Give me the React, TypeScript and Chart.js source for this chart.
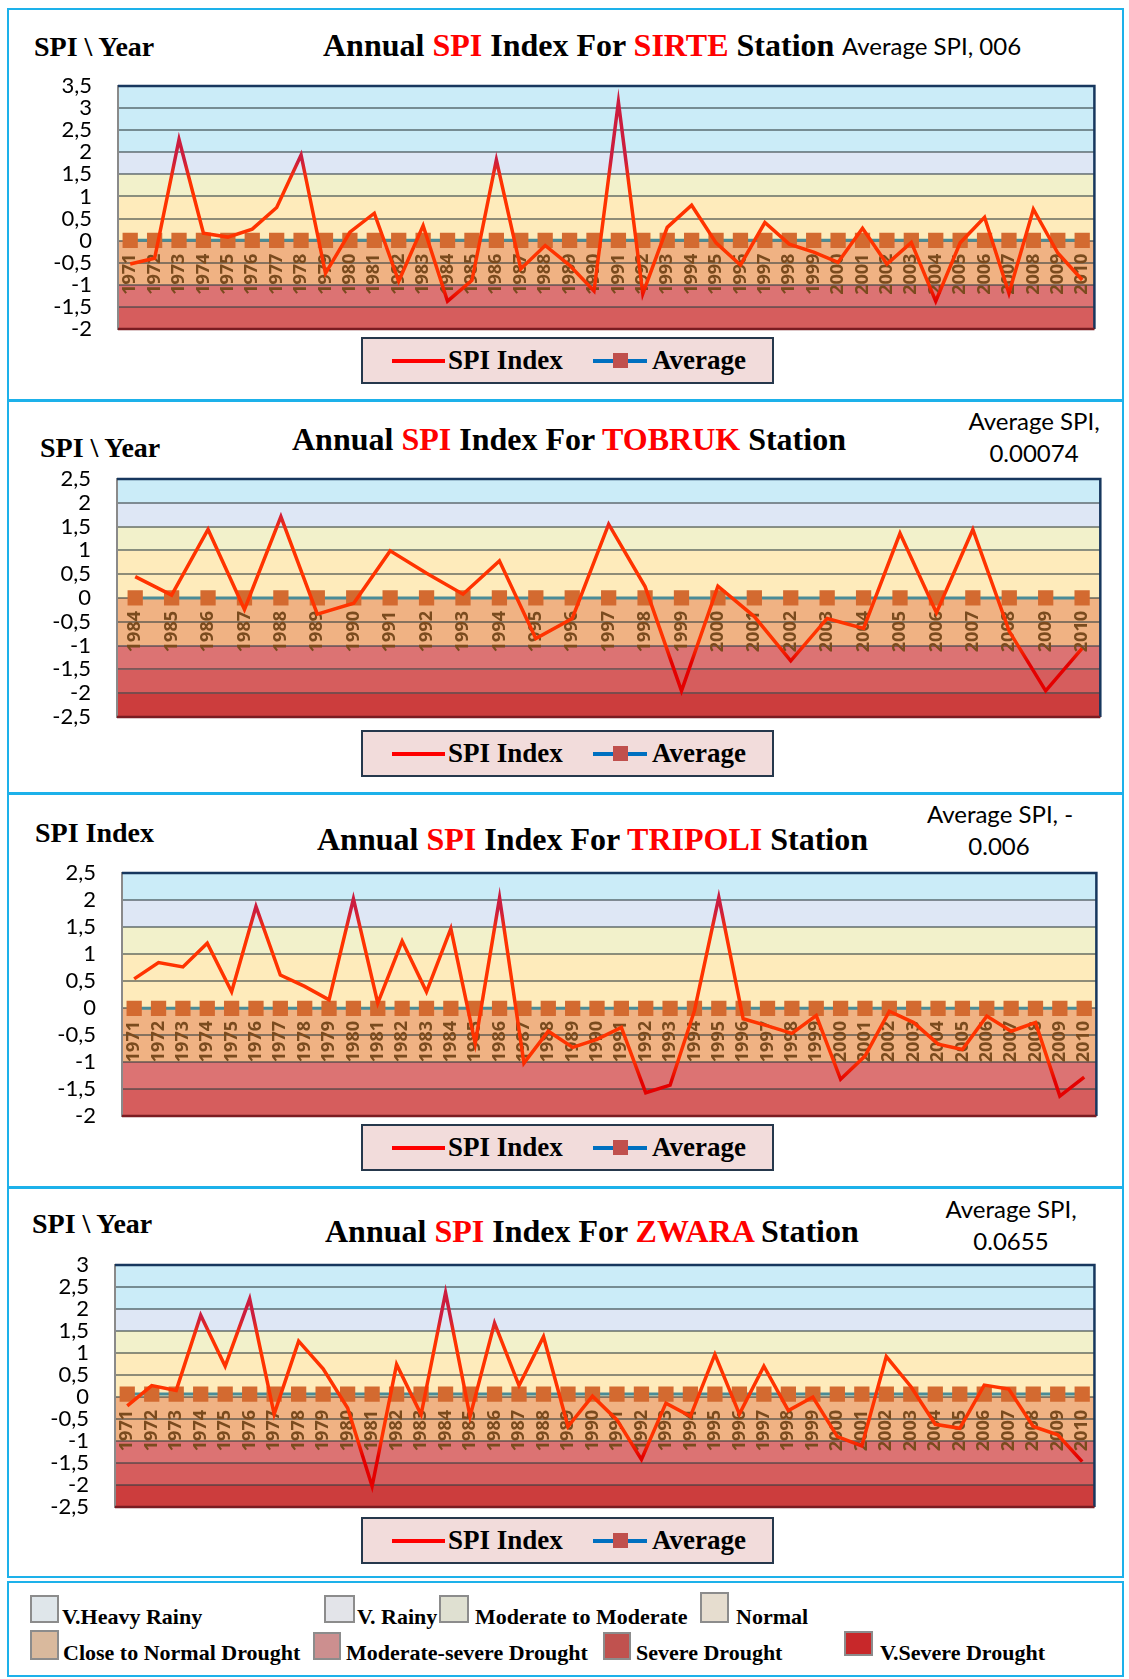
import React, { useEffect, useRef } from 'react';
import { Chart, registerables } from 'chart.js';

Chart.register(...registerables);

// ---------------- DATA ----------------
const YEARS_1971_2010 = [
  '1971', '1972', '1973', '1974', '1975', '1976', '1977', '1978', '1979', '1980',
  '1981', '1982', '1983', '1984', '1985', '1986', '1987', '1988', '1989', '1990',
  '1991', '1992', '1993', '1994', '1995', '1996', '1997', '1998', '1999', '2000',
  '2001', '2002', '2003', '2004', '2005', '2006', '2007', '2008', '2009', '2010',
];
const YEARS_1984_2010 = [
  '1984', '1985', '1986', '1987', '1988', '1989', '1990', '1991', '1992', '1993',
  '1994', '1995', '1996', '1997', '1998', '1999', '2000', '2001', '2002', '2003',
  '2004', '2005', '2006', '2007', '2008', '2009', '2010',
];

const SIRTE_SPI = [
  -0.53, -0.40, 2.29, 0.17, 0.08, 0.26, 0.75, 1.94, -0.74, 0.19,
  0.62, -0.92, 0.34, -1.37, -0.90, 1.83, -0.64, -0.11, -0.56, -1.14,
  3.14, -1.20, 0.30, 0.80, -0.05, -0.55, 0.41, -0.08, -0.26, -0.49,
  0.28, -0.53, -0.04, -1.37, -0.05, 0.53, -1.19, 0.71, -0.28, -0.89,
];
const SIRTE_AVG = 0.006;

const TOBRUK_SPI = [
  0.45, 0.06, 1.44, -0.24, 1.71, -0.34, -0.11, 0.99, 0.52, 0.08,
  0.78, -0.85, -0.43, 1.55, 0.24, -1.95, 0.25, -0.39, -1.32, -0.43,
  -0.64, 1.36, -0.31, 1.44, -0.70, -1.95, -1.06,
];
const TOBRUK_AVG = 0.00074;

const TRIPOLI_SPI = [
  0.54, 0.84, 0.76, 1.20, 0.30, 1.88, 0.61, 0.40, 0.15, 2.02,
  0.09, 1.24, 0.30, 1.47, -0.66, 2.04, -1.02, -0.43, -0.73, -0.58,
  -0.36, -1.57, -1.43, -0.05, 2.05, -0.20, -0.33, -0.47, -0.14, -1.32,
  -0.89, -0.06, -0.27, -0.67, -0.77, -0.15, -0.43, -0.27, -1.63, -1.28,
];
const TRIPOLI_AVG = -0.006;

const ZWARA_SPI = [
  -0.20, 0.26, 0.15, 1.86, 0.70, 2.23, -0.39, 1.27, 0.64, -0.25,
  -2.03, 0.74, -0.40, 2.37, -0.44, 1.68, 0.26, 1.37, -0.67, 0.02,
  -0.52, -1.42, -0.14, -0.44, 0.97, -0.39, 0.70, -0.31, 0.00, -0.90,
  -1.11, 0.92, 0.24, -0.62, -0.71, 0.27, 0.18, -0.67, -0.86, -1.47,
];
const ZWARA_AVG = 0.0655;

// SPI classes (value ranges of the background bands)
const BAND_FROM = [2, 1.5, 1, 0, -1, -1.5, -2, -10];
const BAND_TO = [10, 2, 1.5, 1, 0, -1, -1.5, -2];
const BAND_COLORS = ['#CBECF8', '#DEE7F5', '#F2F1CB', '#FEEBBB', '#F0B283', '#DC7373', '#D65D5D', '#CC3D3D'];

// ---------------- STYLE ----------------
const SERIF = '"Liberation Serif", "Times New Roman", serif';
const SANS = 'Lato, "Open Sans", sans-serif';
const PAD_L = 100;
const PAD_T = 44;
const PAD_R = 16;
const PAD_B = 44;

const GRAD_STOPS: [number, string][] = [
  [1.8, '#CC1D3E'],
  [1.35, '#FF3300'],
  [-0.95, '#FF3300'],
  [-1.35, '#E40000'],
];

function lineGradient(chart: any) {
  const { ctx, chartArea, scales } = chart;
  if (!chartArea || !scales || !scales.y) return '#FF3300';
  const y = scales.y;
  const h = chartArea.bottom - chartArea.top;
  const g = ctx.createLinearGradient(0, chartArea.top, 0, chartArea.bottom);
  for (const [v, c] of GRAD_STOPS) {
    const off = (y.getPixelForValue(v) - chartArea.top) / h;
    g.addColorStop(Math.min(1, Math.max(0, off)), c);
  }
  return g;
}

const bandsPlugin = {
  id: 'spiBands',
  beforeDraw(chart: any) {
    const { ctx, chartArea, scales } = chart;
    if (!chartArea) return;
    const y = scales.y;
    ctx.save();
    ctx.beginPath();
    ctx.rect(chartArea.left, chartArea.top, chartArea.right - chartArea.left, chartArea.bottom - chartArea.top);
    ctx.clip();
    for (let i = 0; i < BAND_COLORS.length; i++) {
      const top = Math.max(chartArea.top, y.getPixelForValue(BAND_TO[i]));
      const bot = Math.min(chartArea.bottom, y.getPixelForValue(BAND_FROM[i]));
      if (bot > top) {
        ctx.fillStyle = BAND_COLORS[i];
        ctx.fillRect(chartArea.left, top, chartArea.right - chartArea.left, bot - top);
      }
    }
    ctx.restore();
  },
  beforeDatasetsDraw(chart: any) {
    const { ctx, chartArea } = chart;
    if (!chartArea) return;
    ctx.save();
    ctx.lineWidth = 2.5;
    ctx.strokeStyle = '#17375E';
    ctx.beginPath();
    ctx.moveTo(chartArea.left, chartArea.top);
    ctx.lineTo(chartArea.right, chartArea.top);
    ctx.lineTo(chartArea.right, chartArea.bottom);
    ctx.stroke();
    ctx.strokeStyle = '#7A1C22';
    ctx.beginPath();
    ctx.moveTo(chartArea.left, chartArea.bottom);
    ctx.lineTo(chartArea.right, chartArea.bottom);
    ctx.stroke();
    ctx.restore();
  },
};

type Box = { left: number; top: number; width: number; height: number };

function StationChart(props: {
  labels: string[];
  spi: number[];
  avg: number;
  yMin: number;
  yMax: number;
  box: Box;
}) {
  const { labels, spi, avg, yMin, yMax, box } = props;
  const ref = useRef<HTMLCanvasElement | null>(null);
  const w = box.width + PAD_L + PAD_R;
  const h = box.height + PAD_T + PAD_B;

  useEffect(() => {
    if (!ref.current) return;
    const chart = new Chart(ref.current, {
      type: 'line',
      data: {
        labels,
        datasets: [
          {
            label: 'SPI Index',
            data: spi,
            borderColor: (c: any) => lineGradient(c.chart),
            borderWidth: 3.5,
            pointRadius: 0,
            tension: 0,
            fill: false,
            order: 1,
          },
          {
            label: 'Average',
            data: labels.map(() => avg),
            borderColor: '#4A8C97',
            borderWidth: 3,
            pointStyle: 'rect',
            pointRadius: 10.8,
            pointBackgroundColor: '#D36A30',
            pointBorderColor: '#D36A30',
            pointBorderWidth: 0,
            tension: 0,
            fill: false,
            order: 2,
          },
        ],
      },
      options: {
        responsive: false,
        animation: false,
        devicePixelRatio: 1,
        layout: { padding: { left: 0, top: PAD_T, right: PAD_R, bottom: PAD_B } },
        plugins: {
          legend: { display: false },
          tooltip: { enabled: false },
          title: { display: false },
        },
        scales: {
          x: {
            type: 'category',
            offset: true,
            position: { y: 0 } as any,
            grid: { display: false, drawTicks: false },
            border: { display: false },
            ticks: {
              autoSkip: false,
              minRotation: 90,
              maxRotation: 90,
              padding: 13,
              color: '#7A4B1E',
              font: { family: '"Open Sans", Lato, sans-serif', size: 18, weight: 'bold' },
            },
          },
          y: {
            min: yMin,
            max: yMax,
            ticks: {
              stepSize: 0.5,
              autoSkip: false,
              padding: 26,
              color: '#000000',
              font: { family: SANS, size: 22 },
              callback: (v: any) => String(v).replace('.', ','),
            },
            grid: { color: 'rgba(50,62,64,0.55)', lineWidth: 2, drawTicks: false },
            border: { display: true, color: '#8A8A8A', width: 2 },
            afterFit: (s: any) => {
              s.width = PAD_L;
            },
          },
        },
      },
      plugins: [bandsPlugin],
    } as any);
    return () => chart.destroy();
  }, []);

  return (
    <canvas
      ref={ref}
      width={w}
      height={h}
      style={{ position: 'absolute', left: box.left - PAD_L, top: box.top - PAD_T, width: w, height: h }}
    />
  );
}

function Txt(props: { x: number; base: number; size: number; family: string; bold?: boolean; children: any; center?: boolean }) {
  const { x, base, size, family, bold, children, center } = props;
  const asc = family === SERIF ? 0.8375 : 0.887;
  return (
    <div
      style={{
        position: 'absolute',
        left: x,
        top: base - asc * size,
        fontFamily: family,
        fontSize: size,
        lineHeight: `${size}px`,
        fontWeight: bold ? 'bold' : 'normal',
        whiteSpace: 'nowrap',
        color: '#000',
        transform: center ? 'translateX(-50%)' : undefined,
      }}
    >
      {children}
    </div>
  );
}

function Title(props: { x: number; base: number; station: string }) {
  return (
    <Txt x={props.x} base={props.base} size={32} family={SERIF} bold>
      Annual <span style={{ color: '#FF0000' }}>SPI</span> Index For{' '}
      <span style={{ color: '#FF0000' }}>{props.station}</span> Station
    </Txt>
  );
}

function SeriesLegend(props: { top: number }) {
  return (
    <div
      style={{
        position: 'absolute',
        left: 361,
        top: props.top,
        width: 413,
        height: 47,
        boxSizing: 'border-box',
        background: '#F2DCDB',
        border: '2px solid #26384C',
      }}
    >
      <div style={{ position: 'absolute', left: 29, top: 20, width: 53, height: 4, background: '#FF0000' }} />
      <Txt x={85} base={31} size={27} family={SERIF} bold>SPI Index</Txt>
      <div style={{ position: 'absolute', left: 230, top: 20, width: 54, height: 4, background: '#0070C0' }} />
      <div style={{ position: 'absolute', left: 250, top: 14, width: 15, height: 15, background: '#C0504D' }} />
      <Txt x={289} base={31} size={27} family={SERIF} bold>Average</Txt>
    </div>
  );
}

function Panel(props: { top: number; height: number }) {
  return (
    <div
      style={{
        position: 'absolute',
        left: 7,
        top: props.top,
        width: 1117,
        height: props.height,
        boxSizing: 'border-box',
        border: '2px solid #1DB1EA',
      }}
    />
  );
}

const CLASS_NAMES = [
  'V.Heavy Rainy', 'V. Rainy', 'Moderate to Moderate', 'Normal',
  'Close to Normal Drought', 'Moderate-severe Drought', 'Severe Drought', 'V.Severe Drought',
];
const CLASS_SWATCH_COLORS = ['#DFE6EA', '#E3E4E9', '#DFE0D1', '#E6DDCF', '#D9B99D', '#CC8F8F', '#C0524F', '#C8282A'];
const CLASS_POS: { sx: number; sy: number; sw: number; sh: number; tx: number; base: number }[] = [
  { sx: 30, sy: 1595, sw: 29, sh: 28, tx: 62, base: 1624 },
  { sx: 324, sy: 1595, sw: 31, sh: 28, tx: 357, base: 1624 },
  { sx: 439, sy: 1595, sw: 30, sh: 28, tx: 475, base: 1624 },
  { sx: 700, sy: 1592, sw: 29, sh: 31, tx: 736, base: 1624 },
  { sx: 30, sy: 1630, sw: 29, sh: 30, tx: 63, base: 1660 },
  { sx: 313, sy: 1632, sw: 28, sh: 28, tx: 346, base: 1660 },
  { sx: 603, sy: 1632, sw: 28, sh: 28, tx: 636, base: 1660 },
  { sx: 844, sy: 1631, sw: 29, sh: 25, tx: 880, base: 1660 },
];

export default function App() {
  return (
    <div style={{ position: 'absolute', left: 0, top: 0, width: 1129, height: 1679, background: '#fff' }}>
      <Panel top={8} height={393} />
      <Panel top={400} height={394} />
      <Panel top={793} height={395} />
      <Panel top={1187} height={391} />
      <Panel top={1581} height={96} />

      {/* SIRTE */}
      <Txt x={34} base={56} size={28} family={SERIF} bold>SPI \ Year</Txt>
      <Title x={323} base={56} station="SIRTE" />
      <Txt x={842} base={55} size={24} family={SANS}>Average SPI, 006</Txt>
      <StationChart labels={YEARS_1971_2010} spi={SIRTE_SPI} avg={SIRTE_AVG} yMin={-2} yMax={3.5}
        box={{ left: 118, top: 86, width: 983, height: 243 }} />
      <SeriesLegend top={337} />

      {/* TOBRUK */}
      <Txt x={40} base={457} size={28} family={SERIF} bold>SPI \ Year</Txt>
      <Title x={292} base={450} station="TOBRUK" />
      <Txt x={1034} base={430} size={24} family={SANS} center>Average SPI,</Txt>
      <Txt x={1034} base={462} size={24} family={SANS} center>0.00074</Txt>
      <StationChart labels={YEARS_1984_2010} spi={TOBRUK_SPI} avg={TOBRUK_AVG} yMin={-2.5} yMax={2.5}
        box={{ left: 117, top: 479, width: 984, height: 238 }} />
      <SeriesLegend top={730} />

      {/* TRIPOLI */}
      <Txt x={35} base={842} size={28} family={SERIF} bold>SPI Index</Txt>
      <Title x={317} base={850} station="TRIPOLI" />
      <Txt x={1000} base={823} size={24} family={SANS} center>Average SPI, -</Txt>
      <Txt x={999} base={855} size={24} family={SANS} center>0.006</Txt>
      <StationChart labels={YEARS_1971_2010} spi={TRIPOLI_SPI} avg={TRIPOLI_AVG} yMin={-2} yMax={2.5}
        box={{ left: 122, top: 873, width: 981, height: 243 }} />
      <SeriesLegend top={1124} />

      {/* ZWARA */}
      <Txt x={32} base={1233} size={28} family={SERIF} bold>SPI \ Year</Txt>
      <Title x={325} base={1242} station="ZWARA" />
      <Txt x={1011} base={1218} size={24} family={SANS} center>Average SPI,</Txt>
      <Txt x={1011} base={1250} size={24} family={SANS} center>0.0655</Txt>
      <StationChart labels={YEARS_1971_2010} spi={ZWARA_SPI} avg={ZWARA_AVG} yMin={-2.5} yMax={3}
        box={{ left: 115, top: 1265, width: 986, height: 242 }} />
      <SeriesLegend top={1517} />

      {/* SPI class legend */}
      {CLASS_NAMES.map((name, i) => {
        const p = CLASS_POS[i];
        return (
          <React.Fragment key={name}>
            <div
              style={{
                position: 'absolute',
                left: p.sx,
                top: p.sy,
                width: p.sw,
                height: p.sh,
                boxSizing: 'border-box',
                background: CLASS_SWATCH_COLORS[i],
                border: '2px solid #8C8C8C',
              }}
            />
            <Txt x={p.tx} base={p.base} size={22} family={SERIF} bold>{name}</Txt>
          </React.Fragment>
        );
      })}
    </div>
  );
}
